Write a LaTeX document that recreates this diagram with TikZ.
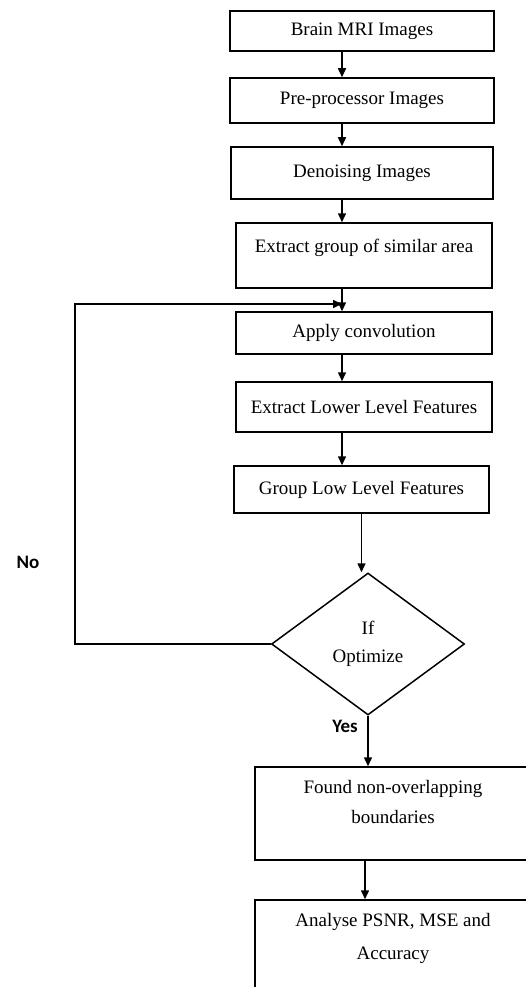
\documentclass[tikz,border=0pt]{standalone}
\usepackage{fontspec}
\setmainfont{Liberation Serif}
\newfontfamily\labfont{Carlito}
\usetikzlibrary{arrows.meta,shapes.geometric}
\tikzset{
  box/.style={draw, line width=1.5pt, inner sep=0pt, align=center,
              font=\fontsize{19}{28}\selectfont},
  decision/.style={draw, diamond, line width=1.5pt, inner sep=0pt, align=center,
              font=\fontsize{19}{28}\selectfont},
  arr/.style={line width=1.5pt, -{Triangle[length=9pt,width=8pt]}},
  lab/.style={font=\labfont\bfseries\fontsize{19}{20}\selectfont, inner sep=0pt}
}
\begin{document}
\begin{tikzpicture}[x=1pt,y=-1pt]
\useasboundingbox (0,0) rectangle (526,987);
\fill[white] (0,0) rectangle (526,987);

\node[box, minimum width=264pt, minimum height=40pt] (b1) at (362,31) {Brain MRI Images};
\node[box, minimum width=264pt, minimum height=45pt] (b2) at (362,100.5) {Pre-processor Images};
\node[box, minimum width=262pt, minimum height=52pt] (b3) at (362,173) {Denoising Images};
\node[box, minimum width=256pt, minimum height=65pt] (b4) at (364,255.5)
  {\parbox[c][65pt][t]{256pt}{\centering\vspace{16pt}Extract group of similar area}};
\node[box, minimum width=256pt, minimum height=42pt] (b5) at (364,333) {Apply convolution};
\node[box, minimum width=256pt, minimum height=50pt] (b6) at (364,407) {Extract Lower Level Features};
\node[box, minimum width=255pt, minimum height=47pt] (b7) at (361.5,489.5) {Group Low Level Features};
\node[decision, minimum width=193pt, minimum height=142pt] (dia) at (368,644) {If\\Optimize};
\node[box, minimum width=276pt, minimum height=93pt] (b8) at (393,813.5)
  {\parbox[c][93pt][t]{276pt}{\centering\vspace{13pt}Found non-overlapping\\[2pt]boundaries}};
\node[box, minimum width=276pt, minimum height=100pt] (b9) at (393,950)
  {\parbox[c][100pt][t]{276pt}{\centering\vspace{13pt}Analyse PSNR, MSE and\\[5pt]Accuracy}};

\node[lab] (no) at (28,562) {No};
\node[lab] (yes) at (345,726) {Yes};

\coordinate (fbl) at (75,304);
\coordinate (join) at (342,304);

\draw[arr] ([xshift=-20pt]b1.south) -- ([xshift=-20pt]b2.north);
\draw[arr] ([xshift=-20pt]b2.south) -- ([xshift=-20pt]b3.north);
\draw[arr] ([xshift=-20pt]b3.south) -- ([xshift=-22pt]b4.north);
\draw[arr] ([xshift=-22pt]b4.south) -- ([xshift=-22pt]b5.north);
\draw[arr] ([xshift=-22pt]b5.south) -- ([xshift=-22pt]b6.north);
\draw[arr] ([xshift=-22pt]b6.south) -- ([xshift=-19.5pt]b7.north);
\draw[arr] (b7.south) -- (b7.south |- dia.north);
\draw[arr] (dia.south) -- (dia.south |- b8.north);
\draw[arr] ([xshift=-28pt]b8.south) -- ([xshift=-28pt]b9.north);
\draw[arr] (dia.west) -| (fbl) -- (join);
\end{tikzpicture}
\end{document}
